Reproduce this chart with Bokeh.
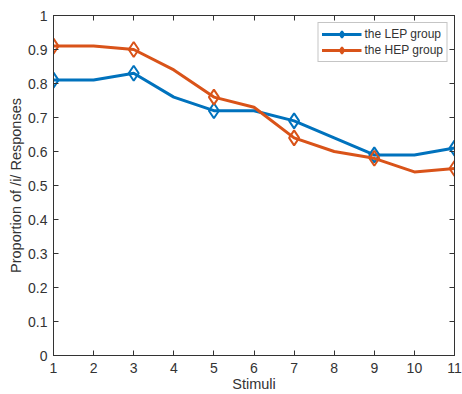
from bokeh.plotting import figure
from bokeh.models import (LinearAxis, FixedTicker, CustomJSTickFormatter, Range1d,
                          ColumnDataSource, CDSView, IndexFilter, Legend, LegendItem)
from bokeh.embed import file_html
from bokeh.resources import INLINE

stimuli = [1, 2, 3, 4, 5, 6, 7, 8, 9, 10, 11]
lep = [0.81, 0.81, 0.83, 0.76, 0.72, 0.72, 0.69, 0.64, 0.59, 0.59, 0.61]
hep = [0.91, 0.91, 0.90, 0.84, 0.76, 0.73, 0.64, 0.60, 0.58, 0.54, 0.55]
marker_idx = [0, 2, 4, 6, 8, 10]
y_ticks = [0, 0.1, 0.2, 0.3, 0.4, 0.5, 0.6, 0.7, 0.8, 0.9, 1.0]
x_ticks = stimuli

BLUE = "#0072BD"
ORANGE = "#D95319"
AX = "#333333"
FONT = "Liberation Sans"

p = figure(width=462, height=394, output_backend="svg", toolbar_location=None,
           x_range=Range1d(1, 11), y_range=Range1d(0, 1),
           min_border_left=53, min_border_top=15, min_border_right=8, min_border_bottom=38)
p.xgrid.visible = False
p.ygrid.visible = False
p.outline_line_color = AX
p.outline_line_width = 1
p.background_fill_color = "white"
p.border_fill_color = "white"

fmt = CustomJSTickFormatter(code="return (Math.round(tick*10)/10).toString();")
blank = CustomJSTickFormatter(code="return '';")

def style(ax, labels=True):
    ax.major_tick_in = 5
    ax.major_tick_out = 0
    ax.minor_tick_in = 0
    ax.minor_tick_out = 0
    ax.axis_line_color = AX
    ax.major_tick_line_color = AX
    ax.major_label_text_font = FONT
    ax.major_label_text_font_size = "14px"
    ax.major_label_text_color = AX
    ax.axis_label_text_font = FONT
    ax.axis_label_text_font_size = "14.5px"
    ax.axis_label_text_font_style = "normal"
    ax.axis_label_text_color = AX
    if not labels:
        ax.formatter = blank
        ax.major_label_standoff = 0

p.xaxis.ticker = FixedTicker(ticks=x_ticks)
p.yaxis.ticker = FixedTicker(ticks=y_ticks)
p.yaxis.formatter = fmt
p.xaxis.axis_label = "Stimuli"
p.yaxis.axis_label = "Proportion of /i/ Responses"
style(p.xaxis[0])
style(p.yaxis[0])
p.xaxis.major_label_standoff = 7
p.xaxis.axis_label_standoff = 0
p.yaxis.major_label_standoff = 6
p.yaxis.axis_label_standoff = 1

top = LinearAxis(ticker=FixedTicker(ticks=x_ticks))
style(top, labels=False)
right = LinearAxis(ticker=FixedTicker(ticks=y_ticks))
style(right, labels=False)
p.add_layout(top, "above")
p.add_layout(right, "right")

src = ColumnDataSource(dict(x=stimuli, lep=lep, hep=hep))
view = CDSView(filter=IndexFilter(marker_idx))

l1 = p.line("x", "lep", source=src, line_color=BLUE, line_width=3)
m1 = p.scatter("x", "lep", source=src, view=view, marker="diamond", size=15,
               fill_color=None, line_color=BLUE, line_width=2)
l2 = p.line("x", "hep", source=src, line_color=ORANGE, line_width=3)
m2 = p.scatter("x", "hep", source=src, view=view, marker="diamond", size=15,
               fill_color=None, line_color=ORANGE, line_width=2)

legend = Legend(items=[LegendItem(label="the LEP group", renderers=[l1, m1]),
                       LegendItem(label="the HEP group", renderers=[l2, m2])],
                location="top_right")
legend.label_text_font = FONT
legend.label_text_font_size = "12px"
legend.label_text_color = AX
legend.border_line_color = "#8c8c8c"
legend.border_line_width = 1
legend.glyph_width = 40
legend.glyph_height = 16
legend.label_height = 16
legend.spacing = 0
legend.padding = 3
legend.margin = 7
legend.label_standoff = 3
legend.background_fill_alpha = 1
p.add_layout(legend, "center")

open("out.html", "w").write(file_html(p, INLINE))
